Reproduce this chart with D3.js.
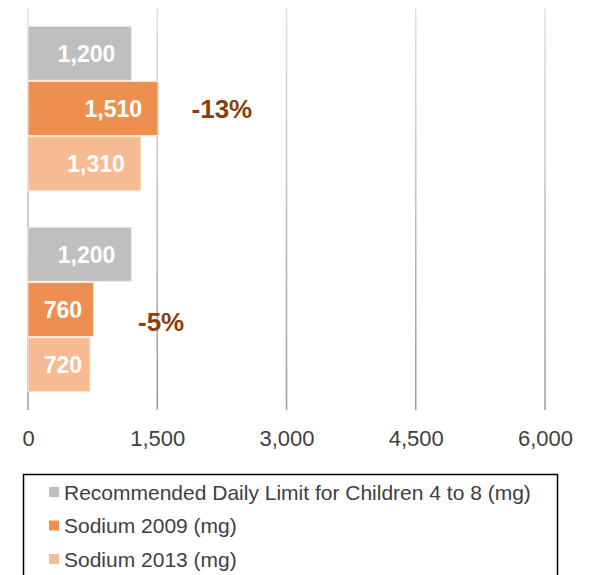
<!DOCTYPE html>
<html>
<head>
<meta charset="utf-8">
<script src="https://cdn.jsdelivr.net/npm/d3@7"></script>
<style>
body { margin: 0; background: #fff; }
svg { display: block; font-family: "Liberation Sans", Arial, sans-serif; }
</style>
</head>
<body>
<svg id="svg" width="597" height="575"></svg>
<script>
// data
var groups = ["A", "B"];
var series = ["Recommended Daily Limit for Children 4 to 8 (mg)", "Sodium 2009 (mg)", "Sodium 2013 (mg)"];
var limitValues = [1200, 1200];
var sodium2009 = [1510, 760];
var sodium2013 = [1310, 720];
var tickValues = [0, 1500, 3000, 4500, 6000];
var notes = ["-13%", "-5%"];
var noteX = [2250, 1545];
var colors = ["#bfbfbf", "#ef8f4f", "#f6bb93"];

var svg = d3.select("#svg");
var x = d3.scaleLinear().domain([0, 6000]).range([28, 545]);
var y = d3.scaleBand().domain(groups).range([8, 410]);
var y2 = d3.scaleBand().domain(series).range([0, y.bandwidth()]).paddingOuter(0.33).paddingInner(0.02);

// gridlines
var grad = svg.append("defs").append("linearGradient")
  .attr("id", "gridGrad").attr("gradientUnits", "userSpaceOnUse")
  .attr("x1", 0).attr("y1", 8).attr("x2", 0).attr("y2", 410);
grad.append("stop").attr("offset", "0%").attr("stop-color", "#e0e0e0");
grad.append("stop").attr("offset", "100%").attr("stop-color", "#9a9a9a");

svg.selectAll(".grid").data(tickValues).enter().append("line")
  .attr("x1", d => x(d)).attr("x2", d => x(d))
  .attr("y1", 8).attr("y2", 410)
  .style("stroke", "url(#gridGrad)")
  .style("stroke-width", 1.5);

var axis = svg.append("g").attr("transform", "translate(0,410)")
  .call(d3.axisBottom(x).tickValues(tickValues).tickSize(0).tickPadding(20).tickFormat(d3.format(",")));
axis.select(".domain").remove();
axis.selectAll("text").style("font-size", "22px").style("fill", "#404040")
  .style("font-family", "'Liberation Sans', Arial, sans-serif");

var rows = [];
groups.forEach(function(g, i) {
  rows.push({g: g, s: series[0], v: limitValues[i], c: colors[0]});
  rows.push({g: g, s: series[1], v: sodium2009[i], c: colors[1]});
  rows.push({g: g, s: series[2], v: sodium2013[i], c: colors[2]});
});

svg.selectAll(".bar").data(rows).enter().append("rect")
  .attr("x", x(0))
  .attr("y", d => y(d.g) + y2(d.s))
  .attr("width", d => x(d.v) - x(0))
  .attr("height", y2.bandwidth())
  .style("fill", d => d.c)
  .style("stroke", "#fbe9dc")
  .style("stroke-width", 1);

svg.selectAll(".lbl").data(rows).enter().append("text")
  .attr("x", d => Math.max(x(d.v) - 16, x(0) + 54))
  .attr("y", d => y(d.g) + y2(d.s) + y2.bandwidth() / 2)
  .attr("dy", "0.36em")
  .attr("text-anchor", "end")
  .style("font-size", "23px").style("font-weight", "bold").style("fill", "#fff")
  .text(d => d3.format(",")(d.v));

svg.selectAll(".note").data(notes).enter().append("text")
  .attr("x", (d, i) => x(noteX[i]))
  .attr("y", (d, i) => i == 0 ? y(groups[0]) + y2(series[1]) + y2.bandwidth() / 2 : y(groups[1]) + y2(series[2]) - 16)
  .attr("dy", "0.36em")
  .attr("text-anchor", "middle")
  .style("font-size", "26px").style("font-weight", "bold").style("fill", "#8b3d0c")
  .text(d => d);

// legend
svg.append("rect").attr("x", 23.5).attr("y", 474.5).attr("width", 534).attr("height", 110)
  .style("fill", "none").style("stroke", "#000").style("stroke-width", 1.5);
var leg = svg.selectAll(".leg").data(series).enter().append("g")
  .attr("transform", (d, i) => "translate(49," + (492 + i * 33.5) + ")");
leg.append("rect").attr("x", 0).attr("y", -5).attr("width", 10).attr("height", 10)
  .style("fill", (d, i) => colors[i]);
leg.append("text").attr("x", 15).attr("dy", "0.36em")
  .style("font-size", "21px").style("fill", "#404040").text(d => d);
</script>
</body>
</html>
